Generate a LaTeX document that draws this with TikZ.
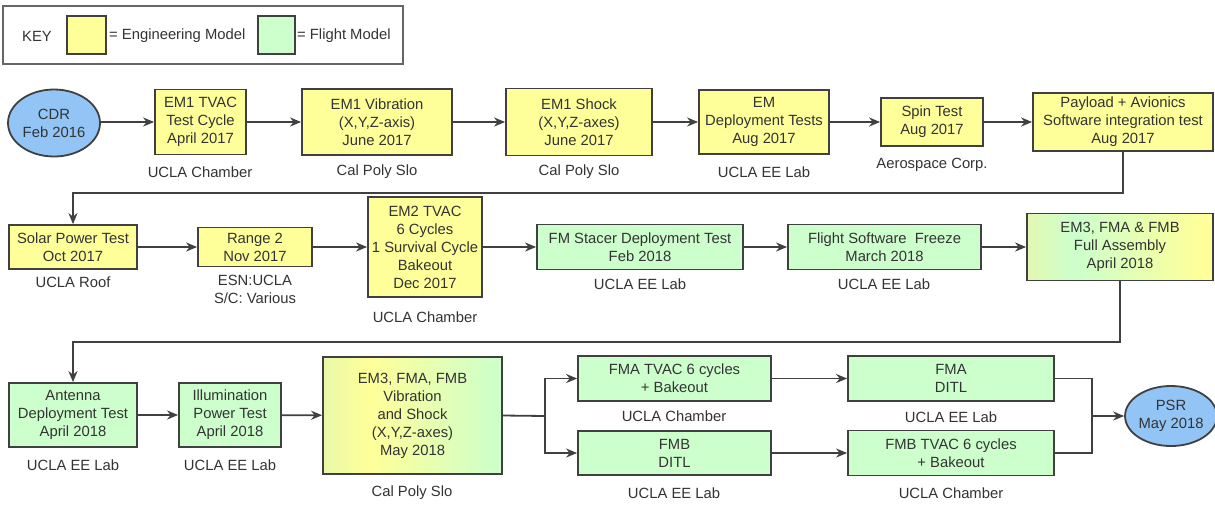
\documentclass[tikz,border=0pt]{standalone}
\usepackage{fontspec}
\setmainfont{Liberation Sans}
\usetikzlibrary{arrows.meta,shapes.geometric}
\definecolor{emyellow}{HTML}{FFFF99}
\definecolor{fmgreen}{HTML}{CCFFCC}
\definecolor{msblue}{HTML}{92C5F5}
\definecolor{edge}{HTML}{404040}
\definecolor{txt}{HTML}{333333}
\definecolor{ygA}{HTML}{E2F8B2}
\definecolor{ygB}{HTML}{EAF8A8}
\pgfdeclarehorizontalshading{asmshade}{100bp}{color(0bp)=(ygA); color(25bp)=(ygA); color(38bp)=(fmgreen); color(72bp)=(emyellow); color(100bp)=(emyellow)}
\pgfdeclarehorizontalshading{vibshade}{100bp}{color(0bp)=(ygB); color(25bp)=(ygB); color(38bp)=(emyellow); color(75bp)=(fmgreen); color(100bp)=(fmgreen)}
\tikzset{
  base/.style={draw=edge, line width=1.8pt, align=center, text=txt, inner sep=2pt,
    font=\fontsize{14.8}{18}\selectfont},
  embox/.style={base, rectangle, fill=emyellow},
  fmbox/.style={base, rectangle, fill=fmgreen},
  mixasm/.style={base, rectangle, shading=asmshade},
  mixvib/.style={base, rectangle, shading=vibshade},
  milestone/.style={base, ellipse, fill=msblue, inner sep=0pt},
  loc/.style={align=center, text=txt, inner sep=0pt, font=\fontsize{14.8}{18}\selectfont},
  arr/.style={draw=edge, line width=1.8pt, -{Stealth[length=11pt,width=9pt]}},
  ln/.style={draw=edge, line width=1.8pt},
}
\begin{document}
\begin{tikzpicture}[x=1pt,y=-1pt]
\useasboundingbox[fill=white] (0,0) rectangle (1215,504);
% key
\node[draw=edge!80, line width=1.6pt, minimum width=400pt, minimum height=58pt, inner sep=0pt] (keyframe) at (203,35) {};
\node[loc, anchor=center] (keylbl) at (37,36) {KEY};
\node[embox, minimum width=39pt, minimum height=38pt, inner sep=0pt] (keyem) at (86.5,35) {};
\node[loc, anchor=west] (keyemt) at (109,36) {= Engineering Model};
\node[fmbox, minimum width=37pt, minimum height=38pt, inner sep=0pt] (keyfm) at (276.5,35) {};
\node[loc, anchor=west] (keyfmt) at (297,36) {= Flight Model};

% row 1
\node[milestone, minimum width=92pt, minimum height=67pt] (cdr) at (54,123) {CDR\\Feb 2016};
\node[embox, minimum width=91pt, minimum height=65pt] (em1tvac) at (200.5,122) {EM1 TVAC\\Test Cycle\\April 2017};
\node[embox, minimum width=150pt, minimum height=66pt] (em1vib) at (377,122) {EM1 Vibration\\(X,Y,Z-axis)\\June 2017};
\node[embox, minimum width=146pt, minimum height=67pt] (em1shock) at (579,122) {EM1 Shock\\(X,Y,Z-axes)\\June 2017};
\node[embox, minimum width=130pt, minimum height=64pt] (emdep) at (764,122) {EM\\Deployment Tests\\Aug 2017};
\node[embox, minimum width=102pt, minimum height=48pt] (spin) at (932,122) {Spin Test\\Aug 2017};
\node[embox, minimum width=180pt, minimum height=58pt] (payload) at (1123,122) {Payload + Avionics\\Software integration test\\Aug 2017};
\node[loc] (l1) at (200,172) {UCLA Chamber};
\node[loc] (l2) at (377,172) {Cal Poly Slo};
\node[loc] (l3) at (579,172) {Cal Poly Slo};
\node[loc] (l4) at (764,172) {UCLA EE Lab};
\node[loc] (l5) at (932,165) {Aerospace Corp.};

% row 2
\node[embox, minimum width=128pt, minimum height=44pt] (solar) at (73,247) {Solar Power Test\\Oct 2017};
\node[embox, minimum width=114pt, minimum height=39pt] (range) at (255,247) {Range 2\\Nov 2017};
\node[embox, minimum width=114pt, minimum height=100pt] (em2tvac) at (425,247) {EM2 TVAC\\6 Cycles\\1 Survival Cycle\\Bakeout\\Dec 2017};
\node[fmbox, minimum width=206pt, minimum height=45pt] (stacer) at (640,247) {FM Stacer Deployment Test\\Feb 2018};
\node[fmbox, minimum width=193pt, minimum height=45pt] (fsw) at (884.5,247) {Flight Software\ \ Freeze\\March 2018};
\node[mixasm, minimum width=186pt, minimum height=67pt] (asm) at (1120,247) {EM3, FMA \& FMB\\Full Assembly\\April 2018};
\node[loc] (l6) at (73,282) {UCLA Roof};
\node[loc] (l7) at (255,289) {ESN:UCLA\\S/C: Various};
\node[loc] (l8) at (425,317) {UCLA Chamber};
\node[loc] (l9) at (640,284) {UCLA EE Lab};
\node[loc] (l10) at (884,284) {UCLA EE Lab};

% row 3
\node[fmbox, minimum width=128pt, minimum height=64pt] (antenna) at (73,415) {Antenna\\Deployment Test\\April 2018};
\node[fmbox, minimum width=102pt, minimum height=64pt] (illum) at (230,415) {Illumination\\Power Test\\April 2018};
\node[mixvib, minimum width=179pt, minimum height=117pt] (em3vib) at (412.5,415.5) {EM3, FMA, FMB\\Vibration\\and Shock\\(X,Y,Z-axes)\\May 2018};
\node[fmbox, minimum width=193pt, minimum height=45pt] (fmatvac) at (674.5,378.5) {FMA TVAC 6 cycles\\+ Bakeout};
\node[fmbox, minimum width=193pt, minimum height=44pt] (fmbditl) at (674.5,453) {FMB\\DITL};
\node[fmbox, minimum width=206pt, minimum height=45pt] (fmaditl) at (951,378.5) {FMA\\DITL};
\node[fmbox, minimum width=206pt, minimum height=45pt] (fmbtvac) at (951,453) {FMB TVAC 6 cycles\\+ Bakeout};
\node[milestone, minimum width=87pt, minimum height=60pt] (psr) at (1171,416) {PSR\\May 2018};
\node[loc] (l11) at (73,465) {UCLA EE Lab};
\node[loc] (l12) at (230,465) {UCLA EE Lab};
\node[loc] (l13) at (412,493) {Cal Poly Slo};
\node[loc] (l14) at (674,416) {UCLA Chamber};
\node[loc] (l15) at (674,493) {UCLA EE Lab};
\node[loc] (l16) at (951,417) {UCLA EE Lab};
\node[loc] (l17) at (951,493) {UCLA Chamber};

% connectors
\coordinate (c1) at (600,193);
\coordinate (c2) at (600,342);
\coordinate (s1) at (545,416);
\coordinate (m1) at (1092,416);
\draw[arr] (cdr.east |- em1tvac.west) -- (em1tvac.west);
\draw[arr] (em1tvac) -- (em1vib);
\draw[arr] (em1vib) -- (em1shock);
\draw[arr] (em1shock) -- (emdep);
\draw[arr] (emdep) -- (spin);
\draw[arr] (spin) -- (payload);
\draw[arr] (payload.south) |- (c1) -| (solar.north);
\draw[arr] (solar) -- (range);
\draw[arr] (range) -- (em2tvac);
\draw[arr] (em2tvac) -- (stacer);
\draw[arr] (stacer) -- (fsw);
\draw[arr] (fsw) -- (asm);
\draw[arr] (asm.south) |- (c2) -| (antenna.north);
\draw[arr] (antenna) -- (illum);
\draw[arr] (illum) -- (em3vib);
\draw[ln] (em3vib.east) -- (s1);
\draw[arr] (s1) |- (fmatvac.west);
\draw[arr] (s1) |- (fmbditl.west);
\draw[arr] (fmatvac) -- (fmaditl);
\draw[arr] (fmbditl) -- (fmbtvac);
\draw[ln] (fmaditl.east) -| (m1);
\draw[ln] (fmbtvac.east) -| (m1);
\draw[arr] (m1) -- (psr.west);
\end{tikzpicture}
\end{document}
